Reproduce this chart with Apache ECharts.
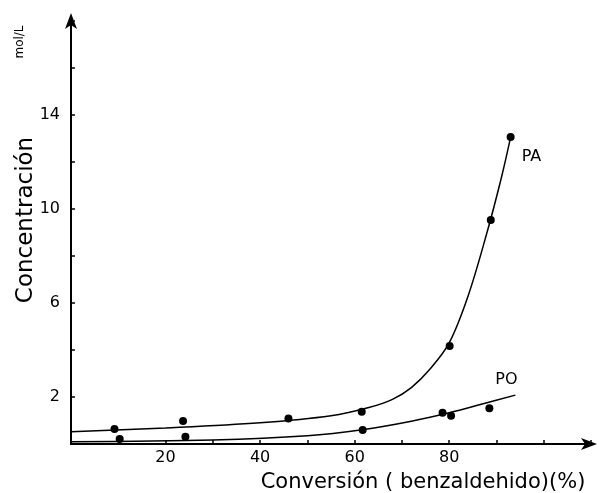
<!DOCTYPE html>
<html>
<head>
<meta charset="utf-8">
<script src="https://cdn.jsdelivr.net/npm/echarts@6/dist/echarts.min.js"></script>
<style>html,body{margin:0;padding:0;background:#fff;}#c{width:599px;height:493px;}</style>
</head>
<body>
<div id="c"></div>
<script>
// Measured points
var paX = [9.2, 23.7, 46.0, 61.5, 80.1, 88.8, 93.0];
var paY = [0.64, 0.98, 1.09, 1.37, 4.17, 9.53, 13.06];
var poX = [10.3, 24.2, 61.7, 78.6, 80.4, 88.5];
var poY = [0.21, 0.31, 0.60, 1.33, 1.20, 1.52];
// Hand-drawn fitted curves (traced)
var paCurveX = [0, 20, 40, 55, 63, 68, 72, 76, 80, 84, 88, 91, 93];
var paCurveY = [0.52, 0.68, 0.9, 1.2, 1.55, 1.9, 2.4, 3.2, 4.3, 6.3, 9.0, 11.3, 13.06];
var poCurveX = [0, 30, 50, 62, 72, 80, 87, 94];
var poCurveY = [0.1, 0.17, 0.35, 0.62, 0.97, 1.33, 1.7, 2.08];
var xTickLabels = [20, 40, 60, 80];
var yTickLabels = [2, 6, 10, 14];
var xTitle = 'Conversión ( benzaldehido)(%)';
var yTitle = 'Concentración';
var yUnit = 'mol/L';

function zip(a, b) { return a.map(function (v, i) { return [v, b[i]]; }); }

var chart = echarts.init(document.getElementById('c'), null, {renderer: 'canvas'});
var font = 'DejaVu Sans';
chart.setOption({
  animation: false,
  backgroundColor: '#fff',
  grid: {left: 71, right: 8, top: 21, bottom: 49},
  xAxis: {
    type: 'value', min: 0, max: 110, interval: 10,
    splitLine: {show: false},
    axisLine: {lineStyle: {color: '#000', width: 2}, symbol: ['none', 'arrow'], symbolSize: [9, 16], symbolOffset: [0, 6]},
    axisTick: {inside: true, length: 4, lineStyle: {color: '#000', width: 1.5}},
    axisLabel: {color: '#000', fontFamily: font, fontSize: 16, margin: 6,
      formatter: function (v) { return xTickLabels.indexOf(v) >= 0 ? String(v) : ''; }}
  },
  yAxis: {
    type: 'value', min: 0, max: 18, interval: 2,
    splitLine: {show: false},
    axisLine: {lineStyle: {color: '#000', width: 2}, symbol: ['none', 'arrow'], symbolSize: [9, 16], symbolOffset: [0, 8]},
    axisTick: {inside: true, length: 4, lineStyle: {color: '#000', width: 1.5}},
    axisLabel: {color: '#000', fontFamily: font, fontSize: 16, margin: 11,
      formatter: function (v) { return yTickLabels.indexOf(v) >= 0 ? String(v) : ''; }}
  },
  series: [
    {type: 'line', data: zip(paCurveX, paCurveY), smooth: 0.35, symbol: 'none',
     lineStyle: {color: '#000', width: 1.5},
     endLabel: {show: true, formatter: 'PA', color: '#000', fontFamily: font, fontSize: 16, offset: [3, 20]}},
    {type: 'line', data: zip(poCurveX, poCurveY), smooth: 0.35, symbol: 'none',
     lineStyle: {color: '#000', width: 1.5},
     endLabel: {show: true, formatter: 'PO', color: '#000', fontFamily: font, fontSize: 16, offset: [-28, -15]}},
    {type: 'scatter', data: zip(paX, paY), symbol: 'circle', symbolSize: 8, itemStyle: {color: '#000', opacity: 1}},
    {type: 'scatter', data: zip(poX, poY), symbol: 'circle', symbolSize: 8, itemStyle: {color: '#000', opacity: 1}}
  ],
  graphic: [
    {type: 'text', x: 423, y: 483, style: {text: xTitle, fill: '#000', font: '21px "DejaVu Sans"', textAlign: 'center', textVerticalAlign: 'middle'}},
    {type: 'text', x: 26, y: 220, rotation: Math.PI / 2, style: {text: yTitle, fill: '#000', font: '23px "DejaVu Sans"', textAlign: 'center', textVerticalAlign: 'middle'}},
    {type: 'text', x: 20, y: 42, rotation: Math.PI / 2, style: {text: yUnit, fill: '#000', font: '12px "DejaVu Sans"', textAlign: 'center', textVerticalAlign: 'middle'}}
  ]
});
</script>
</body>
</html>
